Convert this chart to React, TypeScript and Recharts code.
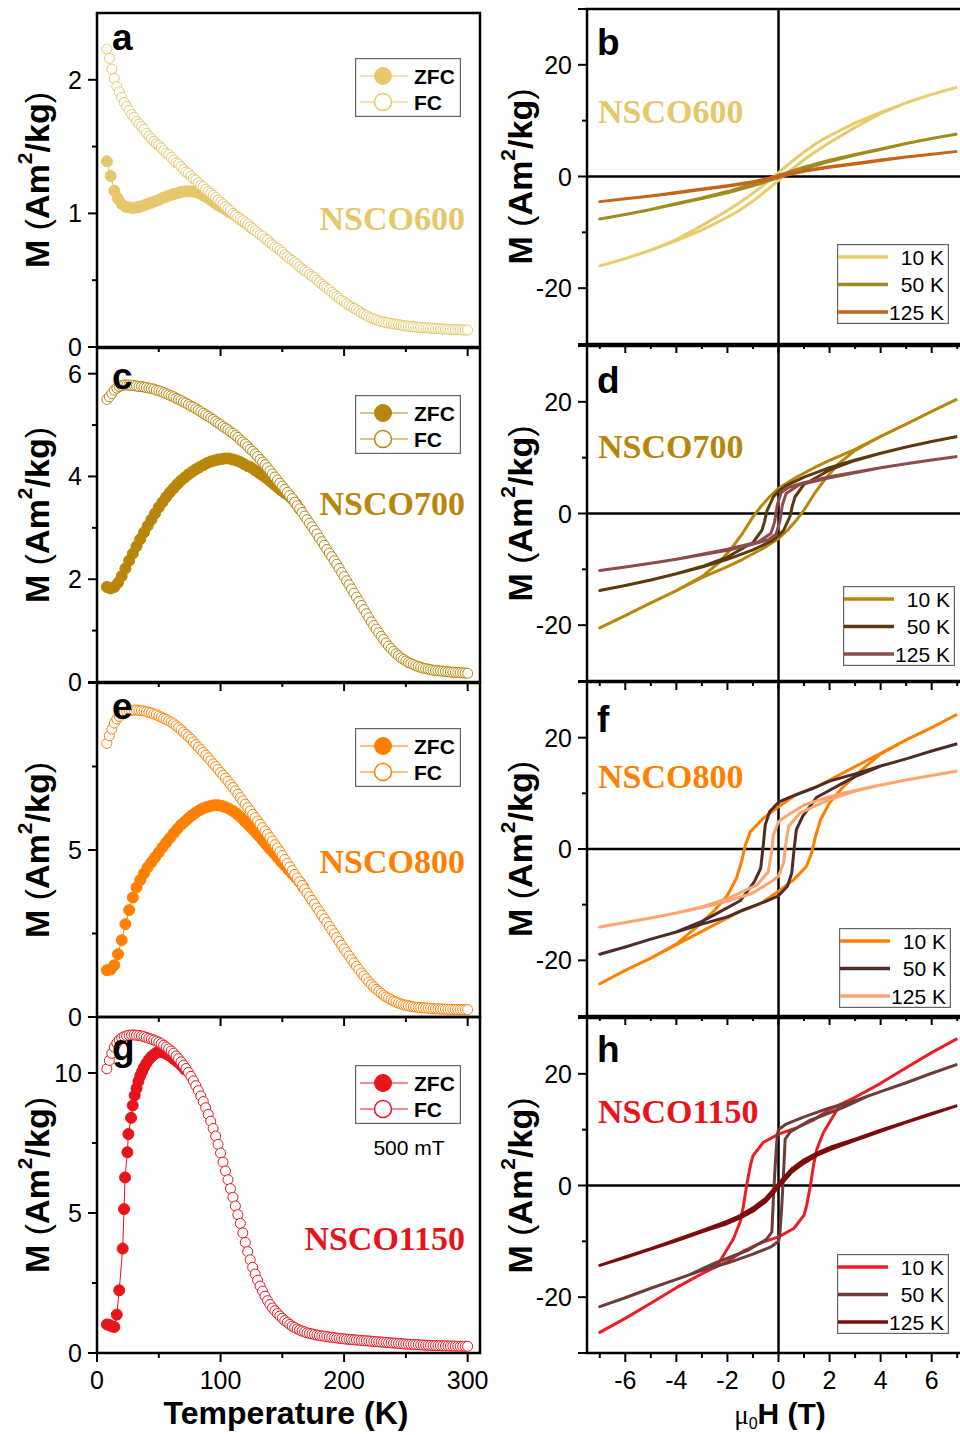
import React from "react";
import { LineChart, Line, XAxis, YAxis, ReferenceArea, ReferenceLine, Legend } from "recharts";

const SANS = "'Liberation Sans', Arial, Helvetica, sans-serif";
const SERIF = "'Liberation Serif', 'Times New Roman', Times, serif";

if (typeof document !== "undefined") document.body.style.margin = "0";

// temperature grid of the FC sweeps (K)
const fcTemps = [
  8, 10, 12, 14, 16, 18, 20, 22, 24, 26, 28, 30, 32, 34, 36, 38, 40, 42, 44, 46,
  48, 50, 52, 54, 56, 58, 60, 62, 64, 66, 68, 70, 72, 74, 76, 78, 80, 82, 84, 86,
  88, 90, 92, 94, 96, 98, 100, 102, 104, 106, 108, 110, 112, 114, 116, 118, 120, 122, 124, 126,
  128, 130, 132, 134, 136, 138, 140, 142, 144, 146, 148, 150, 152, 154, 156, 158, 160, 162, 164, 166,
  168, 170, 172, 174, 176, 178, 180, 182, 184, 186, 188, 190, 192, 194, 196, 198, 200, 202, 204, 206,
  208, 210, 212, 214, 216, 218, 220, 222, 224, 226, 228, 230, 232, 234, 236, 238, 240, 242, 244, 246,
  248, 250, 252, 254, 256, 258, 260, 262, 264, 266, 268, 270, 272, 274, 276, 278, 280, 282, 284, 286,
  288, 290, 292, 294, 296, 298, 300,
];
// temperature grid of the ZFC sweeps (K), shown up to where they join FC
const zfcTemps = [
  8, 11, 14, 17, 20, 23, 26, 29, 32, 35, 38, 41, 44, 47, 50, 53, 56, 59, 62, 65,
  68, 71, 74, 77, 80, 83, 86, 89, 92, 95, 98, 101, 104, 107, 110, 113, 116, 119, 122, 125,
  128, 131, 134, 137, 140, 143, 146, 149, 152, 155, 158, 161, 164, 167,
];

const fc600 = [
  2.23, 2.16, 2.08, 2.01, 1.95, 1.91, 1.87, 1.83, 1.8, 1.77,
  1.74, 1.72, 1.69, 1.67, 1.65, 1.63, 1.6, 1.58, 1.56, 1.54,
  1.52, 1.51, 1.49, 1.47, 1.45, 1.44, 1.42, 1.4, 1.38, 1.37,
  1.35, 1.33, 1.31, 1.3, 1.28, 1.26, 1.25, 1.23, 1.21, 1.2,
  1.18, 1.165, 1.15, 1.135, 1.12, 1.1, 1.085, 1.07, 1.05, 1.035,
  1.02, 1.0, 0.985, 0.97, 0.96, 0.945, 0.93, 0.92, 0.9, 0.885,
  0.87, 0.855, 0.84, 0.83, 0.81, 0.8, 0.78, 0.765, 0.75, 0.74,
  0.725, 0.71, 0.69, 0.675, 0.66, 0.65, 0.635, 0.62, 0.6, 0.585,
  0.57, 0.56, 0.545, 0.53, 0.52, 0.5, 0.485, 0.47, 0.455, 0.44,
  0.43, 0.41, 0.395, 0.38, 0.365, 0.35, 0.34, 0.325, 0.31, 0.3,
  0.29, 0.28, 0.27, 0.255, 0.245, 0.235, 0.225, 0.218, 0.21, 0.203,
  0.197, 0.19, 0.187, 0.183, 0.18, 0.177, 0.173, 0.17, 0.167, 0.164,
  0.16, 0.158, 0.156, 0.154, 0.152, 0.15, 0.148, 0.147, 0.145, 0.144,
  0.143, 0.141, 0.14, 0.139, 0.137, 0.136, 0.135, 0.134, 0.132, 0.131,
  0.131, 0.13, 0.129, 0.129, 0.128, 0.127, 0.127,
];
const zfc600 = [
  1.39, 1.28, 1.17, 1.11, 1.07, 1.05, 1.045, 1.04, 1.045, 1.05, 1.06, 1.07, 1.08, 1.09, 1.1, 1.115, 1.125, 1.135, 1.145, 1.15,
  1.16, 1.165, 1.165, 1.165, 1.16, 1.15, 1.135, 1.12, 1.1, 1.08, 1.06, 1.045, 1.03, 1.01, 0.995, 0.975, 0.955, 0.935, 0.915, 0.89,
];

const fc700 = [
  5.5, 5.55, 5.61, 5.68, 5.72, 5.75, 5.77, 5.78, 5.78, 5.78,
  5.77, 5.77, 5.76, 5.75, 5.75, 5.74, 5.73, 5.72, 5.71, 5.7,
  5.68, 5.67, 5.65, 5.63, 5.61, 5.59, 5.57, 5.55, 5.52, 5.5,
  5.48, 5.45, 5.43, 5.4, 5.37, 5.35, 5.32, 5.29, 5.26, 5.23,
  5.2, 5.17, 5.14, 5.11, 5.07, 5.04, 5.01, 4.97, 4.94, 4.91,
  4.87, 4.84, 4.8, 4.76, 4.71, 4.67, 4.63, 4.58, 4.53, 4.49,
  4.44, 4.39, 4.33, 4.28, 4.23, 4.17, 4.11, 4.05, 3.99, 3.93,
  3.87, 3.81, 3.75, 3.69, 3.63, 3.57, 3.5, 3.43, 3.37, 3.3,
  3.23, 3.16, 3.09, 3.02, 2.95, 2.88, 2.8, 2.73, 2.66, 2.58,
  2.51, 2.44, 2.36, 2.29, 2.21, 2.13, 2.05, 1.97, 1.89, 1.81,
  1.73, 1.65, 1.57, 1.49, 1.41, 1.33, 1.25, 1.17, 1.1, 1.03,
  0.96, 0.89, 0.83, 0.76, 0.7, 0.65, 0.6, 0.55, 0.51, 0.47,
  0.44, 0.41, 0.38, 0.36, 0.34, 0.32, 0.3, 0.285, 0.27, 0.26,
  0.25, 0.24, 0.23, 0.225, 0.22, 0.215, 0.21, 0.205, 0.2, 0.195,
  0.19, 0.19, 0.185, 0.18, 0.178, 0.175, 0.17,
];
const zfc700 = [
  1.85, 1.82, 1.85, 1.93, 2.06, 2.21, 2.36, 2.5, 2.64, 2.78, 2.91, 3.04, 3.16, 3.28, 3.4, 3.5, 3.6, 3.69, 3.77, 3.85,
  3.92, 3.98, 4.04, 4.09, 4.14, 4.18, 4.22, 4.26, 4.29, 4.31, 4.33, 4.34, 4.35, 4.35, 4.33, 4.31, 4.28, 4.24, 4.2, 4.17,
  4.12, 4.07, 4.02, 3.97, 3.91, 3.85, 3.79, 3.73, 3.68, 3.63, 3.56, 3.47, 3.37,
];

const fc800 = [
  8.19, 8.42, 8.62, 8.8, 8.92, 9.0, 9.07, 9.11, 9.14, 9.17,
  9.18, 9.19, 9.19, 9.18, 9.17, 9.16, 9.14, 9.12, 9.1, 9.07,
  9.05, 9.01, 8.98, 8.94, 8.91, 8.87, 8.83, 8.78, 8.72, 8.66,
  8.6, 8.53, 8.46, 8.39, 8.32, 8.24, 8.16, 8.08, 8.0, 7.92,
  7.84, 7.76, 7.67, 7.58, 7.5, 7.41, 7.32, 7.24, 7.15, 7.06,
  6.96, 6.87, 6.77, 6.67, 6.57, 6.47, 6.37, 6.27, 6.17, 6.07,
  5.97, 5.87, 5.77, 5.67, 5.57, 5.47, 5.37, 5.27, 5.16, 5.06,
  4.95, 4.83, 4.72, 4.6, 4.49, 4.38, 4.27, 4.16, 4.05, 3.94,
  3.82, 3.71, 3.6, 3.49, 3.38, 3.27, 3.16, 3.05, 2.94, 2.83,
  2.71, 2.6, 2.49, 2.38, 2.26, 2.15, 2.04, 1.93, 1.83, 1.72,
  1.62, 1.52, 1.42, 1.32, 1.23, 1.14, 1.05, 0.97, 0.9, 0.83,
  0.77, 0.71, 0.65, 0.6, 0.56, 0.52, 0.48, 0.45, 0.42, 0.39,
  0.37, 0.355, 0.34, 0.32, 0.305, 0.295, 0.29, 0.283, 0.277, 0.27,
  0.265, 0.26, 0.25, 0.247, 0.243, 0.24, 0.237, 0.234, 0.23, 0.229,
  0.227, 0.225, 0.224, 0.223, 0.222, 0.221, 0.22,
];
const zfc800 = [
  1.4, 1.42, 1.55, 1.88, 2.3, 2.78, 3.2, 3.58, 3.88, 4.1, 4.3, 4.48, 4.63, 4.78, 4.93, 5.08, 5.22, 5.36, 5.5, 5.63,
  5.75, 5.85, 5.95, 6.04, 6.12, 6.19, 6.25, 6.29, 6.32, 6.34, 6.34, 6.32, 6.28, 6.23, 6.17, 6.09, 5.99, 5.88, 5.77, 5.66,
  5.54, 5.42, 5.29, 5.16, 5.03, 4.91, 4.78, 4.65, 4.53, 4.41, 4.29, 4.17, 4.04, 3.88,
];

const fc1150 = [
  10.15, 10.45, 10.7, 10.92, 11.07, 11.18, 11.25, 11.3, 11.33, 11.35,
  11.36, 11.36, 11.35, 11.34, 11.32, 11.3, 11.27, 11.24, 11.21, 11.18,
  11.14, 11.1, 11.05, 10.99, 10.93, 10.86, 10.79, 10.71, 10.61, 10.51,
  10.4, 10.28, 10.16, 10.02, 9.88, 9.72, 9.55, 9.37, 9.18, 8.98,
  8.76, 8.52, 8.28, 8.02, 7.75, 7.45, 7.14, 6.82, 6.5, 6.19,
  5.87, 5.56, 5.25, 4.94, 4.63, 4.29, 3.95, 3.62, 3.33, 3.06,
  2.82, 2.6, 2.39, 2.21, 2.03, 1.87, 1.73, 1.61, 1.51, 1.41,
  1.32, 1.24, 1.16, 1.09, 1.02, 0.96, 0.91, 0.86, 0.82, 0.785,
  0.755, 0.72, 0.7, 0.68, 0.66, 0.64, 0.625, 0.61, 0.6, 0.585,
  0.57, 0.56, 0.55, 0.535, 0.525, 0.515, 0.505, 0.495, 0.485, 0.48,
  0.47, 0.465, 0.46, 0.45, 0.44, 0.435, 0.43, 0.42, 0.415, 0.405,
  0.4, 0.39, 0.385, 0.38, 0.37, 0.36, 0.355, 0.35, 0.34, 0.335,
  0.325, 0.32, 0.315, 0.31, 0.305, 0.3, 0.295, 0.29, 0.285, 0.28,
  0.275, 0.27, 0.268, 0.265, 0.262, 0.26, 0.257, 0.255, 0.252, 0.25,
  0.248, 0.246, 0.244, 0.242, 0.24, 0.239, 0.238,
];
// the NSCO1150 ZFC sweep is sampled more finely at low temperature
const zfcTemps1150 = [
  8, 10, 12, 14, 16, 18, 20.8, 21.9, 22.7, 24.6, 25.4, 27.6, 28.9, 30.5, 32, 33.5, 35, 36.5, 38, 40,
  42, 44, 46, 48, 50, 52, 54, 56, 58, 60, 62, 65, 68, 71,
];
const zfc1150 = [
  1.02, 1.0, 0.95, 0.93, 1.37, 2.24, 3.73, 5.14, 6.27, 7.17, 7.82, 8.4, 8.84, 9.2, 9.45, 9.7, 9.9, 10.05, 10.2, 10.35,
  10.48, 10.58, 10.66, 10.72, 10.75, 10.75, 10.73, 10.69, 10.64, 10.58, 10.5, 10.4, 10.28, 10.13,
];

// hysteresis loops, [mu0H (T), M (Am2/kg)], field swept down then back up
const b10down = [[7, 16.0], [6, 14.7], [5, 13.2], [4, 11.5], [3, 9.6], [2, 7.3], [1.5, 6.0], [1, 4.4], [0.5, 2.6], [0, 0.7], [-0.5, -1.2], [-1, -3.0], [-1.5, -4.6], [-2, -6.1], [-3, -8.8], [-4, -11.3], [-5, -13.2], [-6, -14.7], [-7, -16.0]];
const b10up = [[-6, -14.7], [-5, -13.2], [-4, -11.5], [-3, -9.6], [-2, -7.3], [-1.5, -6.0], [-1, -4.4], [-0.5, -2.6], [0, -0.7], [0.5, 1.2], [1, 3.0], [1.5, 4.6], [2, 6.1], [3, 8.8], [4, 11.3], [5, 13.2], [6, 14.7], [7, 16.0]];
const b50down = [[7, 7.6], [6, 6.8], [5, 5.9], [4, 4.95], [3, 3.95], [2, 2.9], [1, 1.65], [0.5, 0.95], [0, 0.2], [-0.5, -0.65], [-1, -1.35], [-2, -2.7], [-3, -3.85], [-4, -4.85], [-5, -5.9], [-6, -6.8], [-7, -7.6]];
const b50up = [[-6, -6.8], [-5, -5.9], [-4, -4.95], [-3, -3.95], [-2, -2.9], [-1, -1.65], [-0.5, -0.95], [0, -0.2], [0.5, 0.65], [1, 1.35], [2, 2.7], [3, 3.85], [4, 4.85], [5, 5.9], [6, 6.8], [7, 7.6]];
const b125down = [[7, 4.5], [6, 4.0], [5, 3.5], [4, 2.95], [3, 2.35], [2, 1.75], [1, 1.05], [0.5, 0.65], [0, 0.15], [-0.5, -0.45], [-1, -0.95], [-2, -1.65], [-3, -2.25], [-4, -2.85], [-5, -3.5], [-6, -4.0], [-7, -4.5]];
const b125up = [[-6, -4.0], [-5, -3.5], [-4, -2.95], [-3, -2.35], [-2, -1.75], [-1, -1.05], [-0.5, -0.65], [0, -0.15], [0.5, 0.45], [1, 0.95], [2, 1.65], [3, 2.25], [4, 2.85], [5, 3.5], [6, 4.0], [7, 4.5]];

const d10down = [[7, 20.5], [6, 18.3], [5, 16.0], [4, 13.8], [3, 11.5], [2, 9.5], [1.4, 8.2], [0.7, 6.5], [0, 4.5], [-0.35, 3.0], [-0.7, 1.2], [-1, -0.6], [-1.4, -3.5], [-1.8, -6.0], [-2.3, -8.7], [-3, -11.3], [-4, -13.8], [-5, -16.0], [-6, -18.3], [-7, -20.5]];
const d10up = [[-6, -18.3], [-5, -16.0], [-4, -13.8], [-3, -11.5], [-2, -9.5], [-1.4, -8.2], [-0.7, -6.5], [0, -4.5], [0.35, -3.0], [0.7, -1.2], [1, 0.6], [1.4, 3.5], [1.8, 6.0], [2.3, 8.7], [3, 11.3], [4, 13.8], [5, 16.0], [6, 18.3], [7, 20.5]];
const d50down = [[7, 13.8], [6, 12.9], [5, 11.9], [4, 10.8], [3, 9.6], [2, 8.2], [1, 6.5], [0.3, 5.0], [0, 4.0], [-0.2, 3.0], [-0.45, 0.5], [-0.55, -1.5], [-0.65, -3.0], [-1, -5.2], [-2, -7.8], [-3, -9.5], [-4, -10.8], [-5, -11.9], [-6, -12.9], [-7, -13.8]];
const d50up = [[-6, -12.9], [-5, -11.9], [-4, -10.8], [-3, -9.6], [-2, -8.2], [-1, -6.5], [-0.3, -5.0], [0, -4.0], [0.2, -3.0], [0.45, -0.5], [0.55, 1.5], [0.65, 3.0], [1, 5.2], [2, 7.8], [3, 9.5], [4, 10.8], [5, 11.9], [6, 12.9], [7, 13.8]];
const d125down = [[7, 10.2], [6, 9.6], [5, 8.9], [4, 8.2], [3, 7.4], [2, 6.6], [1, 5.5], [0.4, 4.7], [0.1, 3.7], [-0.05, 1.5], [-0.15, -1.5], [-0.3, -3.6], [-0.8, -5.1], [-2, -6.4], [-3, -7.3], [-4, -8.2], [-5, -8.9], [-6, -9.6], [-7, -10.2]];
const d125up = [[-6, -9.6], [-5, -8.9], [-4, -8.2], [-3, -7.4], [-2, -6.6], [-1, -5.5], [-0.4, -4.7], [-0.1, -3.7], [0.05, -1.5], [0.15, 1.5], [0.3, 3.6], [0.8, 5.1], [2, 6.4], [3, 7.3], [4, 8.2], [5, 8.9], [6, 9.6], [7, 10.2]];

const f10down = [[7, 24.2], [6, 21.8], [5, 19.6], [4, 17.2], [3, 14.8], [2, 12.4], [1.4, 11.0], [0.7, 9.8], [0, 7.6], [-0.6, 5.5], [-1.1, 3.1], [-1.3, 0.7], [-1.45, -2.3], [-1.65, -5.3], [-2, -8.3], [-2.5, -11.0], [-3.2, -14.0], [-4, -17.1], [-5, -19.6], [-6, -21.8], [-7, -24.2]];
const f10up = [[-6, -21.8], [-5, -19.6], [-4, -17.2], [-3, -14.8], [-2, -12.4], [-1.4, -11.0], [-0.7, -9.8], [0, -7.6], [0.6, -5.5], [1.1, -3.1], [1.3, -0.7], [1.45, 2.3], [1.65, 5.3], [2, 8.3], [2.5, 11.0], [3.2, 14.0], [4, 17.1], [5, 19.6], [6, 21.8], [7, 24.2]];
const f50down = [[7, 18.9], [6, 17.6], [5, 16.2], [4, 14.9], [3, 13.5], [2, 12.2], [1.4, 11.0], [0.5, 9.4], [0, 8.4], [-0.35, 6.7], [-0.52, 4.3], [-0.6, 0.5], [-0.7, -3.5], [-0.95, -5.9], [-1.5, -9.3], [-2.5, -11.8], [-3, -13.0], [-4, -14.9], [-5, -16.2], [-6, -17.6], [-7, -18.9]];
const f50up = [[-6, -17.6], [-5, -16.2], [-4, -14.9], [-3, -13.5], [-2, -12.2], [-1.4, -11.0], [-0.5, -9.4], [0, -8.4], [0.35, -6.7], [0.52, -4.3], [0.6, -0.5], [0.7, 3.5], [0.95, 5.9], [1.5, 9.3], [2.5, 11.8], [3, 13.0], [4, 14.9], [5, 16.2], [6, 17.6], [7, 18.9]];
const f125down = [[7, 14.0], [6, 13.2], [5, 12.4], [4, 11.5], [3, 10.5], [2, 9.4], [1, 7.9], [0.3, 5.9], [0, 4.9], [-0.2, 2.5], [-0.27, -0.5], [-0.4, -4.1], [-0.85, -6.5], [-2, -8.9], [-3, -10.4], [-4, -11.5], [-5, -12.4], [-6, -13.2], [-7, -14.0]];
const f125up = [[-6, -13.2], [-5, -12.4], [-4, -11.5], [-3, -10.5], [-2, -9.4], [-1, -7.9], [-0.3, -5.9], [0, -4.9], [0.2, -2.5], [0.27, 0.5], [0.4, 4.1], [0.85, 6.5], [2, 8.9], [3, 10.4], [4, 11.5], [5, 12.4], [6, 13.2], [7, 14.0]];

const h10down = [[7, 26.3], [6, 23.8], [5, 21.1], [4, 18.3], [3, 15.8], [2, 13.6], [1.4, 11.8], [0.7, 10.3], [0, 9.2], [-0.6, 7.7], [-1, 5.3], [-1.1, 3.6], [-1.25, 0], [-1.37, -3.6], [-1.5, -6.5], [-1.76, -9.5], [-2.3, -13.6], [-3, -15.8], [-4, -18.3], [-5, -21.1], [-6, -23.8], [-7, -26.3]];
const h10up = [[-6, -23.8], [-5, -21.1], [-4, -18.3], [-3, -15.8], [-2, -13.6], [-1.4, -11.8], [-0.7, -10.3], [0, -9.2], [0.6, -7.7], [1, -5.3], [1.1, -3.6], [1.25, 0], [1.37, 3.6], [1.5, 6.5], [1.76, 9.5], [2.3, 13.6], [3, 15.8], [4, 18.3], [5, 21.1], [6, 23.8], [7, 26.3]];
const h50down = [[7, 21.7], [6, 20.1], [5, 18.4], [4, 16.8], [3, 15.2], [2, 13.9], [1, 12.3], [0.3, 11.0], [0, 10.0], [-0.05, 9.0], [-0.13, 3.6], [-0.2, -2.4], [-0.26, -8.3], [-0.46, -9.6], [-1.2, -11.6], [-2.5, -13.9], [-3.5, -16.0], [-4, -16.8], [-5, -18.4], [-6, -20.1], [-7, -21.7]];
const h50up = [[-6, -20.1], [-5, -18.4], [-4, -16.8], [-3, -15.2], [-2, -13.9], [-1, -12.3], [-0.3, -11.0], [0, -10.0], [0.05, -9.0], [0.13, -3.6], [0.2, 2.4], [0.26, 8.3], [0.46, 9.6], [1.2, 11.6], [2.5, 13.9], [3.5, 16.0], [4, 16.8], [5, 18.4], [6, 20.1], [7, 21.7]];
const h125down = [[7, 14.3], [6, 12.9], [5, 11.4], [4, 9.9], [3, 8.3], [2, 6.8], [1.5, 5.8], [1, 4.6], [0.5, 2.9], [0, 0.3], [-0.5, -2.3], [-1, -4.0], [-1.5, -5.4], [-2, -6.4], [-3, -8.1], [-4, -9.7], [-5, -11.3], [-6, -12.8], [-7, -14.3]];
const h125up = [[-6, -12.9], [-5, -11.4], [-4, -9.9], [-3, -8.3], [-2, -6.8], [-1.5, -5.8], [-1, -4.6], [-0.5, -2.9], [0, -0.3], [0.5, 2.3], [1, 4.0], [1.5, 5.4], [2, 6.4], [3, 8.1], [4, 9.7], [5, 11.3], [6, 12.8], [7, 14.3]];

const tTicks = [0, 50, 100, 150, 200, 250, 300];
const hTicks = [-7, -6, -5, -4, -3, -2, -1, 0, 1, 2, 3, 4, 5, 6, 7];
const mTicks = [-30, -20, -10, 0, 10, 20, 30];
const loopLabels = ["10 K", "50 K", "125 K"];

type Pt = { t: number; m: number };
const toSeries = (ts: number[], ms: number[]): Pt[] => ms.map((m, i) => ({ t: ts[i], m }));
const toLoop = (down: number[][], up: number[][]) => [...down, ...up].map(([h, m]) => ({ h, m }));

function LeftTick(props: any) {
  const { x, y, payload, isMajor, showText, fontSize } = props;
  const len = isMajor ? 9 : 5;
  return (
    <g>
      <line x1={x} y1={y} x2={x - len} y2={y} stroke="#000" strokeWidth={2} />
      {showText && (
        <text x={x - 15} y={y + 9} textAnchor="end" fontFamily={SANS} fontSize={fontSize} fill="#000">
          {String(payload.value)}
        </text>
      )}
    </g>
  );
}

function BottomTick(props: any) {
  const { x, y, payload, isMajor, showText } = props;
  const len = isMajor ? 9 : 5;
  return (
    <g>
      <line x1={x} y1={y} x2={x} y2={y + len} stroke="#000" strokeWidth={2} />
      {showText && (
        <text x={x} y={y + 36} textAnchor="middle" fontFamily={SANS} fontSize={25} fill="#000">
          {String(payload.value)}
        </text>
      )}
    </g>
  );
}

function YTitle({ x, y }: { x: number; y: number }) {
  return (
    <text
      transform={`translate(${x}, ${y}) rotate(-90)`}
      textAnchor="middle"
      dominantBaseline="central"
      fontFamily={SANS}
      fontSize={34}
      fontWeight="bold"
      fill="#000"
    >
      M <tspan fontWeight="normal">(</tspan>Am<tspan fontSize={21} dy={-13}>2</tspan>
      <tspan dy={13}>/kg</tspan>
      <tspan fontWeight="normal">)</tspan>
    </text>
  );
}

function MTLegend({ color }: { color: string }) {
  return (
    <svg width={106} height={59} style={{ display: "block" }}>
      <rect x={0.6} y={0.6} width={104.8} height={57.8} fill="#fff" stroke="#666" strokeWidth={1.2} />
      <line x1={5} x2={53} y1={18} y2={18} stroke={color} strokeWidth={1} />
      <circle cx={28} cy={18} r={8.5} fill={color} stroke={color} strokeWidth={1} />
      <text x={59} y={25.5} fontFamily={SANS} fontWeight="bold" fontSize={21} fill="#000">ZFC</text>
      <line x1={5} x2={53} y1={44} y2={44} stroke={color} strokeWidth={1} />
      <circle cx={28} cy={44} r={8.5} fill="#fff" stroke={color} strokeWidth={1.5} />
      <text x={59} y={51.5} fontFamily={SANS} fontWeight="bold" fontSize={21} fill="#000">FC</text>
    </svg>
  );
}

function MHLegend({ colors }: { colors: string[] }) {
  return (
    <svg width={112} height={80} style={{ display: "block" }}>
      <rect x={0.6} y={0.6} width={110.8} height={78.8} fill="#fff" stroke="#666" strokeWidth={1.2} />
      {colors.map((c, i) => (
        <g key={i}>
          <line x1={1} x2={51} y1={13 + i * 27.5} y2={13 + i * 27.5} stroke={c} strokeWidth={3.5} />
          <text x={107} y={20.5 + i * 27.5} textAnchor="end" fontFamily={SANS} fontSize={21} fill="#000">
            {loopLabels[i]}
          </text>
        </g>
      ))}
    </svg>
  );
}

type MTProps = {
  top: number;
  plotH: number;
  yMax: number;
  yTicks: number[];
  yMajor: (v: number) => boolean;
  yText: (v: number) => boolean;
  zfc: Pt[];
  fc: Pt[];
  color: string;
  name: string;
  nameDy: number;
  letter: string;
  letterDy: number;
  legendDy: number;
  xText?: boolean;
  note?: string;
};

function MTPanel(p: MTProps) {
  const MT = 10;
  const bottom = MT + p.plotH;
  const H = bottom + 80;
  return (
    <div style={{ position: "absolute", left: 0, top: p.top - MT, width: 490, height: H }}>
      <LineChart width={490} height={H} margin={{ top: MT, right: 10, bottom: 0, left: 0 }}>
        <XAxis
          dataKey="t"
          type="number"
          domain={[0, 310]}
          ticks={tTicks}
          interval={0}
          allowDataOverflow
          height={80}
          axisLine={false}
          tickLine={false}
          tickSize={0}
          tickMargin={0}
          tick={(t: any) => (
            <BottomTick {...t} isMajor={t.payload.value % 100 === 0} showText={!!p.xText && t.payload.value % 100 === 0} />
          )}
        />
        <YAxis
          type="number"
          domain={[0, p.yMax]}
          ticks={p.yTicks}
          interval={0}
          allowDataOverflow
          width={97}
          axisLine={false}
          tickLine={false}
          tickSize={0}
          tickMargin={0}
          tick={(t: any) => (
            <LeftTick {...t} fontSize={25} isMajor={p.yMajor(t.payload.value)} showText={p.yText(t.payload.value)} />
          )}
        />
        <ReferenceArea x1={0} x2={310} y1={0} y2={p.yMax} fill="none" stroke="#000" strokeWidth={2.5} ifOverflow="visible" />
        <Line
          data={p.zfc}
          dataKey="m"
          type="linear"
          stroke={p.color}
          strokeWidth={1}
          dot={{ r: 5.5, fill: p.color, stroke: p.color, strokeWidth: 1 }}
          isAnimationActive={false}
        />
        <Line
          data={p.fc}
          dataKey="m"
          type="linear"
          stroke={p.color}
          strokeWidth={1}
          dot={{ r: 5, fill: "#fff", stroke: p.color, strokeWidth: 1 }}
          isAnimationActive={false}
        />
        <Legend
          layout="horizontal"
          verticalAlign="middle"
          align="center"
          content={() => <MTLegend color={p.color} />}
          wrapperStyle={{ left: 355, top: MT + p.legendDy, width: 106, height: 59 }}
        />
      </LineChart>
      <svg width={490} height={H} style={{ position: "absolute", left: 0, top: 0, pointerEvents: "none" }}>
        <text x={112} y={MT + p.letterDy} fontFamily={SANS} fontWeight="bold" fontSize={37} fill="#000">
          {p.letter}
        </text>
        <text x={465} y={MT + p.nameDy} textAnchor="end" fontFamily={SERIF} fontWeight="bold" fontSize={34} fill={p.color}>
          {p.name}
        </text>
        {p.note && (
          <text x={409} y={MT + 138} textAnchor="middle" fontFamily={SANS} fontSize={21} fill="#000">
            {p.note}
          </text>
        )}
        <YTitle x={37} y={MT + p.plotH / 2} />
        {p.xText && (
          <text x={286} y={bottom + 71} textAnchor="middle" fontFamily={SANS} fontWeight="bold" fontSize={32} fill="#000">
            Temperature (K)
          </text>
        )}
      </svg>
    </div>
  );
}

type MHProps = {
  top: number;
  plotH: number;
  loops: { h: number; m: number }[][];
  colors: string[];
  name: string;
  nameColor: string;
  nameDy: number;
  letter: string;
  letterDy: number;
  legendX: number;
  legendDy: number;
  xText?: boolean;
};

function MHPanel(p: MHProps) {
  const MT = 10;
  const bottom = MT + p.plotH;
  const H = bottom + 80;
  return (
    <div style={{ position: "absolute", left: 480, top: p.top - MT, width: 490, height: H }}>
      <LineChart width={490} height={H} margin={{ top: MT, right: 0, bottom: 0, left: 0 }}>
        <XAxis
          dataKey="h"
          type="number"
          domain={[-7.5, 7.5]}
          ticks={hTicks}
          interval={0}
          allowDataOverflow
          height={80}
          axisLine={false}
          tickLine={false}
          tickSize={0}
          tickMargin={0}
          tick={(t: any) => (
            <BottomTick
              {...t}
              isMajor={t.payload.value % 2 === 0}
              showText={!!p.xText && t.payload.value % 2 === 0 && Math.abs(t.payload.value) < 7}
            />
          )}
        />
        <YAxis
          type="number"
          domain={[-30, 30]}
          ticks={mTicks}
          interval={0}
          allowDataOverflow
          width={107}
          axisLine={false}
          tickLine={false}
          tickSize={0}
          tickMargin={0}
          tick={(t: any) => (
            <LeftTick
              {...t}
              fontSize={25}
              isMajor={Math.abs(t.payload.value) !== 10}
              showText={Math.abs(t.payload.value) !== 10 && Math.abs(t.payload.value) !== 30}
            />
          )}
        />
        <ReferenceArea x1={-7.5} x2={7.5} y1={-30} y2={30} fill="none" stroke="#000" strokeWidth={2.5} ifOverflow="visible" />
        <ReferenceLine y={0} stroke="#000" strokeWidth={2.5} />
        <ReferenceLine x={0} stroke="#000" strokeWidth={2.5} />
        {p.loops.map((data, i) => (
          <Line
            key={i}
            data={data}
            dataKey="m"
            type="linear"
            stroke={p.colors[i]}
            strokeWidth={3}
            strokeLinejoin="round"
            dot={false}
            isAnimationActive={false}
          />
        ))}
        <Legend
          layout="horizontal"
          verticalAlign="middle"
          align="center"
          content={() => <MHLegend colors={p.colors} />}
          wrapperStyle={{ left: p.legendX, top: MT + p.legendDy, width: 112, height: 80 }}
        />
      </LineChart>
      <svg width={490} height={H} style={{ position: "absolute", left: 0, top: 0, pointerEvents: "none" }}>
        <text x={117} y={MT + p.letterDy} fontFamily={SANS} fontWeight="bold" fontSize={37} fill="#000">
          {p.letter}
        </text>
        <text x={118} y={MT + p.nameDy} fontFamily={SERIF} fontWeight="bold" fontSize={34} fill={p.nameColor}>
          {p.name}
        </text>
        <YTitle x={40} y={MT + p.plotH / 2} />
        {p.xText && (
          <text x={300} y={bottom + 71} textAnchor="middle" fill="#000">
            <tspan fontFamily={SERIF} fontSize={27}>μ</tspan>
            <tspan fontFamily={SANS} fontSize={16} dy={5}>0</tspan>
            <tspan fontFamily={SANS} fontSize={30} fontWeight="bold" dy={-5}>H (T)</tspan>
          </text>
        )}
      </svg>
    </div>
  );
}

const isInt = (v: number) => Number.isInteger(v);
const isEven = (v: number) => v % 2 === 0;
const isFive = (v: number) => v % 5 === 0;

export default function App() {
  return (
    <div
      style={{
        position: "relative",
        width: 960,
        height: 1435,
        overflow: "hidden",
        background: "#fff",
        fontFamily: SANS,
      }}
    >
      <MTPanel
        top={13} plotH={334} yMax={2.5} yTicks={[0, 0.5, 1, 1.5, 2]} yMajor={isInt} yText={isInt}
        zfc={toSeries(zfcTemps, zfc600)} fc={toSeries(fcTemps, fc600)} color="#E6C76B"
        name="NSCO600" nameDy={217} letter="a" letterDy={37} legendDy={45}
      />
      <MTPanel
        top={348} plotH={334} yMax={6.5} yTicks={[0, 1, 2, 3, 4, 5, 6]} yMajor={isEven} yText={isEven}
        zfc={toSeries(zfcTemps, zfc700)} fc={toSeries(fcTemps, fc700)} color="#B8860B"
        name="NSCO700" nameDy={167} letter="c" letterDy={41} legendDy={47}
      />
      <MTPanel
        top={683} plotH={334} yMax={10} yTicks={[0, 2.5, 5, 7.5, 10]} yMajor={isFive} yText={(v) => v === 0 || v === 5}
        zfc={toSeries(zfcTemps, zfc800)} fc={toSeries(fcTemps, fc800)} color="#FF8000"
        name="NSCO800" nameDy={190} letter="e" letterDy={36} legendDy={45}
      />
      <MTPanel
        top={1017} plotH={336} yMax={12} yTicks={[0, 2.5, 5, 7.5, 10]} yMajor={isFive} yText={isFive}
        zfc={toSeries(zfcTemps1150, zfc1150)} fc={toSeries(fcTemps, fc1150)} color="#E8141C"
        name="NSCO1150" nameDy={233} letter="g" letterDy={43} legendDy={48} xText note="500 mT"
      />

      <MHPanel
        top={9} plotH={335}
        loops={[toLoop(b10down, b10up), toLoop(b50down, b50up), toLoop(b125down, b125up)]}
        colors={["#E8CB6C", "#A08C1E", "#C5651A"]}
        name="NSCO600" nameColor="#E6C76B" nameDy={114} letter="b" letterDy={46} legendX={357} legendDy={235}
      />
      <MHPanel
        top={346} plotH={335}
        loops={[toLoop(d10down, d10up), toLoop(d50down, d50up), toLoop(d125down, d125up)]}
        colors={["#B8860B", "#5C3A0E", "#8E4B4B"]}
        name="NSCO700" nameColor="#B8860B" nameDy={112} letter="d" letterDy={47} legendX={363} legendDy={240}
      />
      <MHPanel
        top={682} plotH={334}
        loops={[toLoop(f10down, f10up), toLoop(f50down, f50up), toLoop(f125down, f125up)]}
        colors={["#FF8000", "#4E2C2A", "#FFA46E"]}
        name="NSCO800" nameColor="#FF8000" nameDy={106} letter="f" letterDy={50} legendX={359} legendDy={246}
      />
      <MHPanel
        top={1018} plotH={335}
        loops={[toLoop(h10down, h10up), toLoop(h50down, h50up), toLoop(h125down, h125up)]}
        colors={["#EE1C24", "#6B3E3A", "#7A0C0C"]}
        name="NSCO1150" nameColor="#E8141C" nameDy={105} letter="h" letterDy={44} legendX={357} legendDy={236} xText
      />
    </div>
  );
}
